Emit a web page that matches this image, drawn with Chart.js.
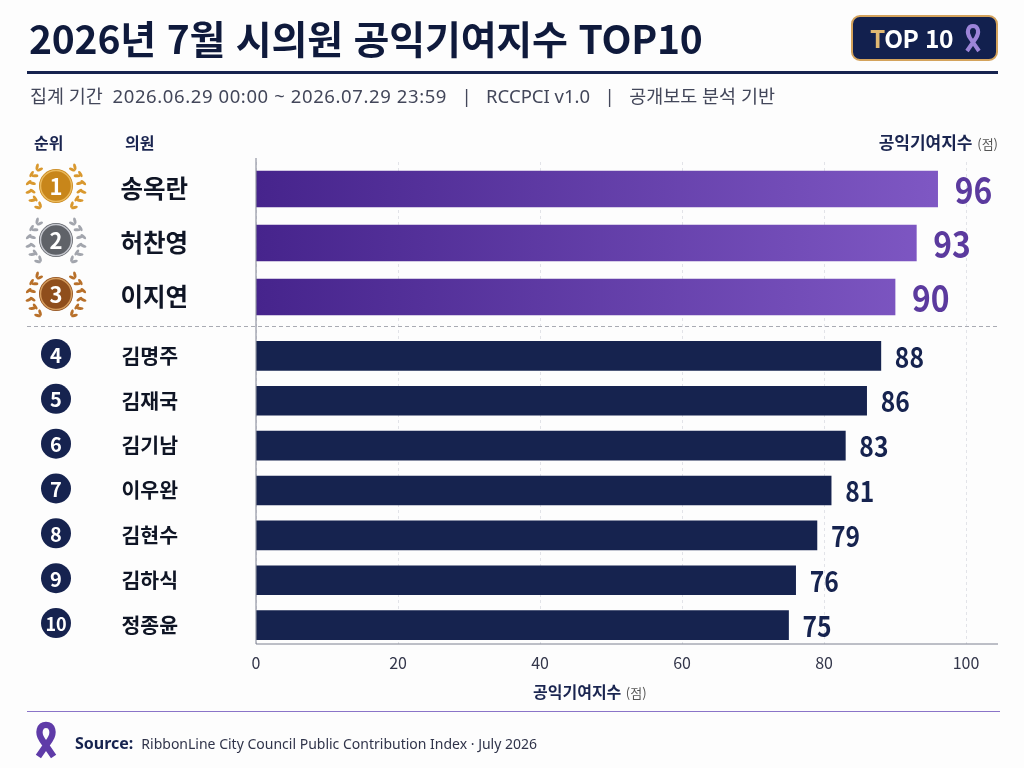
<!DOCTYPE html>
<html lang="ko">
<head>
<meta charset="utf-8">
<title>2026년 7월 시의원 공익기여지수 TOP10</title>
<script src="https://cdn.jsdelivr.net/npm/chart.js@4"></script>
<style>
  html, body { margin: 0; padding: 0; background: #fdfdfd; }
  body { width: 1024px; height: 768px; position: relative; overflow: hidden; font-family: "Noto Sans CJK KR", sans-serif; color: #101a3e; }
  canvas { position: absolute; left: 0; top: 0; }
  .txt { position: absolute; white-space: pre; line-height: 1; }
  .rule { position: absolute; }
  #title { left: 29px; top: 18px; font-size: 39px; font-weight: 700; letter-spacing: -0.2px; color: #0f1a3c; }
  #sub { left: 30px; top: 87px; font-size: 18.5px; color: #43475a; font-family: "Noto Sans", "Noto Sans CJK KR", sans-serif; }
  #sub i { font-style: normal; letter-spacing: 0.6px; }
  .head { font-size: 16px; font-weight: 700; color: #1a2550; }
  .head small { font-size: 13px; font-weight: 400; color: #555; }
  #badge { position: absolute; left: 851px; top: 15px; width: 147px; height: 46px; box-sizing: border-box; border: 2.5px solid #d4a35c; border-radius: 9px; background: #12204e; }
  #badge span { position: absolute; left: 17px; top: 9px; font-size: 24.5px; letter-spacing: -0.4px; line-height: 1; font-weight: 700; color: #fff; font-family: "Noto Sans CJK KR", sans-serif; white-space: pre; }
  #badge b { color: #e0b872; font-weight: 700; }
  #badge svg { position: absolute; left: 108px; top: 6px; }
  #src { left: 75px; top: 735px; font-size: 14px; color: #30344a; font-family: "Noto Sans", "Noto Sans CJK KR", sans-serif; }
  #src b { font-size: 16px; color: #16234f; margin-right: 8px; }
</style>
</head>
<body>
<canvas id="chart" width="1024" height="768"></canvas>
<div class="txt" id="title">2026년 7월 시의원 공익기여지수 TOP10</div>
<div class="rule" style="left:27px;top:71px;width:971px;height:3px;background:#16234f"></div>
<div class="txt" id="sub">집계 기간  <i>2026.06.29 00:00 ~ 2026.07.29 23:59</i>   |   RCCPCI v1.0   |   공개보도 분석 기반</div>
<div id="badge"><span><b>T</b>OP 10</span>
  <svg width="24" height="30" viewBox="0 0 40 60"><path d="M8 56 L26 30 C34 18 30 6 20 6 C10 6 6 18 14 30 L32 56" fill="none" stroke="#9c84d8" stroke-width="8"/></svg>
</div>
<div class="txt head" style="left:34px;top:134px">순위</div>
<div class="txt head" style="left:125px;top:134px">의원</div>
<div class="txt head" style="right:26px;top:133px;font-size:17px">공익기여지수 <small>(점)</small></div>
<div class="txt head" style="left:533px;top:683px">공익기여지수 <small>(점)</small></div>
<div class="rule" style="left:27px;top:711px;width:973px;height:1px;background:#8a74c8"></div>
<svg style="position:absolute;left:33px;top:721px" width="26" height="38" viewBox="0 0 40 60"><path d="M8 56 L26 30 C34 18 30 6 20 6 C10 6 6 18 14 30 L32 56" fill="none" stroke="#5f3ba8" stroke-width="10"/></svg>
<div class="txt" id="src"><b>Source:</b>RibbonLine City Council Public Contribution Index · July 2026</div>

<script>
const topNames = ["송옥란", "허찬영", "이지연"];
const topScores = [96, 93, 90];
const restNames = ["김명주", "김재국", "김기남", "이우완", "김현수", "김하식", "정종윤"];
const restScores = [88, 86, 83, 81, 79, 76, 75];
const medalColors = [
  { face: "#c8861a", leaf: "#d9982e", rim: "#eab95c" },
  { face: "#5f6268", leaf: "#a2a5ad", rim: "#c3c5cc" },
  { face: "#8f4e1c", leaf: "#b8702a", rim: "#d39a5c" }
];

const navy = "#16234f";

function purpleBar(context) {
  const area = context.chart.chartArea;
  if (!area) return "#5b3a9e";
  const g = context.chart.ctx.createLinearGradient(area.left, 0, 945, 0);
  g.addColorStop(0, "#46248c");
  g.addColorStop(1, "#7f58c4");
  return g;
}

function drawLeaf(ctx, x, y, angle) {
  ctx.save();
  ctx.translate(x, y);
  ctx.rotate(angle);
  ctx.beginPath();
  ctx.ellipse(0, 0, 1.5, 3.4, 0, 0, Math.PI * 2);
  ctx.fill();
  ctx.restore();
}

function drawLaurel(ctx, x, y, color) {
  ctx.fillStyle = color;
  [-1, 1].forEach(function (side) {
    for (let i = 0; i < 6; i++) {
      const t = (-48 + i * 19) * Math.PI / 180;
      const cx = x + side * 25 * Math.cos(t);
      const cy = y + 1 - 25 * Math.sin(t);
      // leaves sit along the wreath, one leaning out and one leaning in
      const along = side * (Math.PI / 2 - t) * -1;
      drawLeaf(ctx, cx + side * 2.6 * Math.cos(t), cy - 2.6 * Math.sin(t), along + side * 0.55);
      drawLeaf(ctx, cx - side * 1.2 * Math.cos(t), cy + 1.2 * Math.sin(t), along - side * 0.45);
    }
  });
}

function narrowText(ctx, text, x, y, squeeze) {
  ctx.save();
  ctx.translate(x, y);
  ctx.scale(squeeze, 1);
  ctx.fillText(text, 0, 0);
  ctx.restore();
}

// medals, rank circles, value labels, axis lines
const decorations = {
  id: "decorations",
  afterDraw(chart) {
    const ctx = chart.ctx;
    const area = chart.chartArea;
    const x = chart.scales.x;
    const axisY = area.bottom - 3.5;

    ctx.save();
    // the last row's band ends below the axis line, hide the grid stubs there
    ctx.fillStyle = "#fdfdfd";
    ctx.fillRect(area.left - 1, axisY, area.right - area.left + 2, 5);
    ctx.strokeStyle = "#7d8090";
    ctx.lineWidth = 1;
    ctx.beginPath();
    ctx.moveTo(area.left, 158);
    ctx.lineTo(area.left, axisY);
    ctx.lineTo(area.right, axisY);
    ctx.stroke();

    ctx.strokeStyle = "#a9abb3";
    ctx.setLineDash([4, 3]);
    ctx.beginPath();
    ctx.moveTo(27, 326.5);
    ctx.lineTo(998, 326.5);
    ctx.stroke();
    ctx.setLineDash([]);

    ctx.textAlign = "center";
    ctx.textBaseline = "middle";
    topNames.forEach(function (name, i) {
      const y = chart.scales.top.getPixelForValue(i) - 3;
      const c = medalColors[i];
      drawLaurel(ctx, 56, y, c.leaf);
      ctx.beginPath();
      ctx.arc(56, y, 17, 0, Math.PI * 2);
      ctx.fillStyle = c.face;
      ctx.fill();
      ctx.strokeStyle = c.rim;
      ctx.lineWidth = 1.5;
      ctx.beginPath();
      ctx.arc(56, y, 15.5, 0, Math.PI * 2);
      ctx.stroke();
      ctx.fillStyle = "#fff";
      ctx.font = "700 22px 'Noto Sans CJK KR'";
      ctx.fillText(String(i + 1), 56, y + 1);
    });
    restNames.forEach(function (name, i) {
      const y = chart.scales.rest.getPixelForValue(i) - 2;
      ctx.beginPath();
      ctx.arc(56, y, 15, 0, Math.PI * 2);
      ctx.fillStyle = navy;
      ctx.fill();
      ctx.fillStyle = "#fff";
      ctx.font = "700 " + (i === 6 ? 18 : 20) + "px 'Noto Sans CJK KR'";
      ctx.fillText(String(i + topNames.length + 1), 56, y + 1);
    });

    ctx.textAlign = "left";
    ctx.fillStyle = "#5b3a9e";
    ctx.font = "700 37px 'Noto Sans CJK KR'";
    topScores.forEach(function (v, i) {
      narrowText(ctx, String(v), x.getPixelForValue(v) + 17, chart.scales.top.getPixelForValue(i) + 1, 0.86);
    });
    ctx.fillStyle = navy;
    ctx.font = "700 28px 'Noto Sans CJK KR'";
    restScores.forEach(function (v, i) {
      narrowText(ctx, String(v), x.getPixelForValue(v) + 14, chart.scales.rest.getPixelForValue(i) + 1, 0.88);
    });
    ctx.restore();
  }
};

function fixedWidth(scale) { scale.width = 256; }

new Chart(document.getElementById("chart"), {
  type: "bar",
  data: {
    datasets: [
      { data: topScores, yAxisID: "top", grouped: false, backgroundColor: purpleBar, barThickness: 36 },
      { data: restScores, yAxisID: "rest", grouped: false, backgroundColor: navy, barThickness: 29 }
    ]
  },
  options: {
    indexAxis: "y",
    responsive: false,
    animation: false,
    layout: { padding: { top: 162, right: 26, bottom: 95, left: 0 } },
    plugins: { legend: { display: false }, tooltip: { enabled: false } },
    scales: {
      x: {
        min: 0,
        max: 104.5,
        grid: { color: "#e2e3e8", drawTicks: false },
        border: { display: false, dash: [3, 3] },
        ticks: { stepSize: 20, includeBounds: false, padding: 6, color: "#33364a", font: { family: "Noto Sans CJK KR", size: 16 } },
        afterFit: function (scale) { scale.height = 25.5; }
      },
      top: {
        type: "category",
        labels: topNames,
        stack: "rows",
        stackWeight: 162,
        weight: 3,
        position: "left",
        grid: { display: false },
        border: { display: false },
        ticks: { autoSkip: false, padding: 60, color: "#0f1525", font: { family: "Noto Sans CJK KR", size: 24.5, weight: "700" } },
        afterFit: fixedWidth
      },
      gap: {
        type: "category",
        labels: [""],
        stack: "rows",
        stackWeight: 9.5,
        weight: 2,
        position: "left",
        grid: { display: false },
        border: { display: false },
        ticks: { display: false },
        afterFit: fixedWidth
      },
      rest: {
        type: "category",
        labels: restNames,
        stack: "rows",
        stackWeight: 314,
        weight: 1,
        position: "left",
        grid: { display: false },
        border: { display: false },
        ticks: { autoSkip: false, padding: 70, color: "#0f1525", font: { family: "Noto Sans CJK KR", size: 20.5, weight: "700" } },
        afterFit: fixedWidth
      }
    }
  },
  plugins: [decorations]
});
</script>
</body>
</html>
